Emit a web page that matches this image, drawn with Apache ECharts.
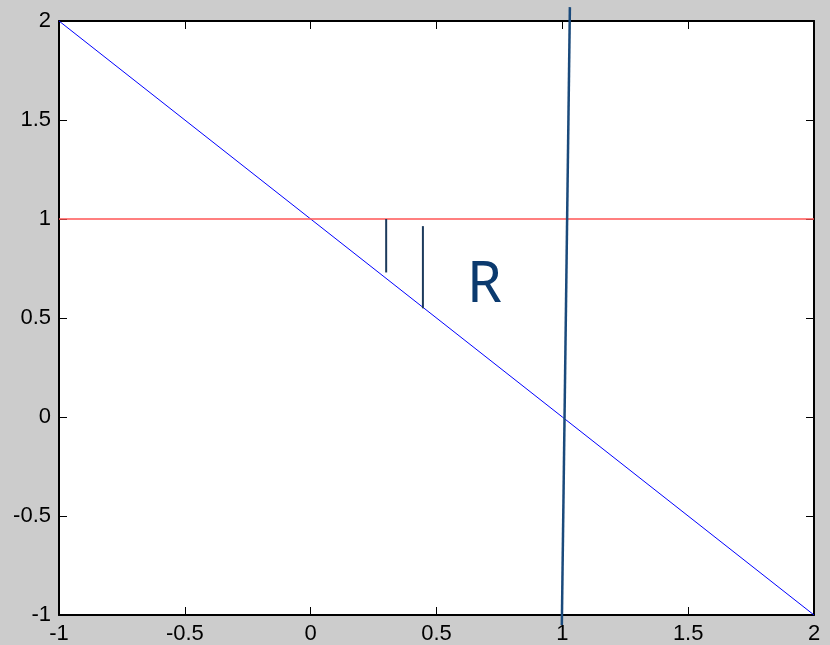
<!DOCTYPE html>
<html>
<head>
<meta charset="utf-8">
<script src="https://cdn.jsdelivr.net/npm/echarts@6/dist/echarts.min.js"></script>
<style>
  html, body { margin: 0; padding: 0; background: #cccccc; }
  #chart { width: 830px; height: 645px; }
</style>
</head>
<body>
<div id="chart"></div>
<script>
// values
const xRange = [-1, 2];
const yRange = [-1, 2];
const blueLine = [[-1, 2], [0, 1], [1, 0], [2, -1]];
const redLine = [[-1, 1], [2, 1]];
const steepLine = [[0.998, -1.05], [1.03, 2.07]];
const shortLine1 = [[0.3, 1.0], [0.3, 0.73]];
const shortLine2 = [[0.446, 0.964], [0.446, 0.549]];
const textPoint = [[0.69, 0.66]];
const textLabel = 'R';

const chart = echarts.init(document.getElementById('chart'));

const labelFont = { fontFamily: 'Liberation Sans', fontSize: 22, color: '#000' };
const axisBase = {
  type: 'value',
  interval: 0.5,
  splitLine: { show: false },
  axisLine: { show: true, onZero: false, lineStyle: { color: '#000', width: 2 } },
  axisTick: { show: true, inside: true, length: 8, lineStyle: { color: '#000', width: 1 } }
};

function line(data, color, width) {
  return {
    type: 'line',
    data: data,
    showSymbol: false,
    symbol: 'none',
    clip: false,
    animation: false,
    lineStyle: { color: color, width: width }
  };
}

chart.setOption({
  backgroundColor: '#cccccc',
  animation: false,
  grid: { left: 59, top: 21, right: 16, bottom: 28, backgroundColor: '#fff', show: true, borderWidth: 0 },
  xAxis: [
    Object.assign({}, axisBase, {
      min: xRange[0], max: xRange[1], position: 'bottom',
      axisLabel: Object.assign({ margin: 8 }, labelFont)
    }),
    Object.assign({}, axisBase, {
      min: xRange[0], max: xRange[1], position: 'top',
      axisLabel: { show: false }
    })
  ],
  yAxis: [
    Object.assign({}, axisBase, {
      min: yRange[0], max: yRange[1], position: 'left',
      axisLabel: Object.assign({ margin: 8 }, labelFont)
    }),
    Object.assign({}, axisBase, {
      min: yRange[0], max: yRange[1], position: 'right',
      axisLabel: { show: false }
    })
  ],
  series: [
    line(blueLine, '#0000ff', 1),
    line(redLine, '#ff5555', 1.5),
    line(steepLine, '#1a4a7c', 2.5),
    line(shortLine1, '#1c3a5c', 2),
    line(shortLine2, '#1c3a5c', 2),
    {
      type: 'scatter',
      data: textPoint,
      symbolSize: 0,
      animation: false,
      itemStyle: { opacity: 1 },
      label: {
        show: true,
        position: 'inside',
        formatter: textLabel,
        fontFamily: 'Noto Sans',
        fontSize: 56,
        color: '#0b3a6e',
        opacity: 1
      }
    }
  ]
});
</script>
</body>
</html>
